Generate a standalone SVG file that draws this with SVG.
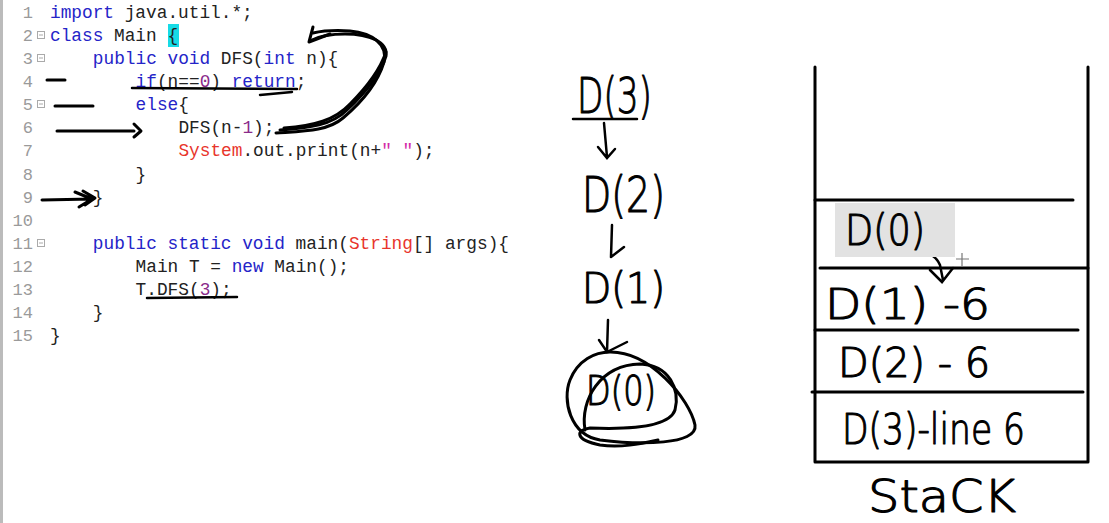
<svg xmlns="http://www.w3.org/2000/svg" width="1109" height="523" viewBox="0 0 1109 523">
<style>
.code{font-family:"Liberation Mono","DejaVu Sans Mono",monospace;font-size:17.8px;fill:#222}
.ln{font-family:"Liberation Mono","DejaVu Sans Mono",monospace;font-size:17px;fill:#9a9a9a;text-anchor:end}
.kw{fill:#2424c8}
.rd{fill:#e8352c}
.nm{fill:#8a2a8a}
.st{fill:#d42aa8}
.fold{fill:#fff;stroke:#aaa;stroke-width:1}
.pen{fill:none;stroke:#000;stroke-width:3;stroke-linecap:round;stroke-linejoin:round}
.thin{fill:none;stroke:#000;stroke-width:2.5;stroke-linecap:round}
.hw{font-family:"DejaVu Sans","Liberation Sans",sans-serif;font-weight:300;fill:#000;stroke:#000;stroke-width:1.1;stroke-linejoin:round}
</style>
<rect width="1109" height="523" fill="#fff"/>
<line x1="1.5" y1="0" x2="1.5" y2="523" stroke="#bbb" stroke-width="3"/>

<g id="editor">
<g id="line-numbers">
<text class="ln" x="33" y="18">1</text>
<text class="ln" x="33" y="41.1">2</text>
<text class="ln" x="33" y="64.1">3</text>
<text class="ln" x="33" y="87.2">4</text>
<text class="ln" x="33" y="110.3">5</text>
<text class="ln" x="33" y="133.4">6</text>
<text class="ln" x="33" y="156.4">7</text>
<text class="ln" x="33" y="179.5">8</text>
<text class="ln" x="33" y="202.6">9</text>
<text class="ln" x="33" y="225.6">10</text>
<text class="ln" x="33" y="248.7">11</text>
<text class="ln" x="33" y="271.8">12</text>
<text class="ln" x="33" y="294.8">13</text>
<text class="ln" x="33" y="317.9">14</text>
<text class="ln" x="33" y="341">15</text>
</g>
<g id="folds">
<rect class="fold" x="37.5" y="31.5" width="7" height="7"/><line x1="39" y1="35" x2="43" y2="35" stroke="#aaa"/>
<rect class="fold" x="37.5" y="54.5" width="7" height="7"/><line x1="39" y1="58" x2="43" y2="58" stroke="#aaa"/>
<rect class="fold" x="37.5" y="100.5" width="7" height="7"/><line x1="39" y1="104" x2="43" y2="104" stroke="#aaa"/>
<rect class="fold" x="37.5" y="239.5" width="7" height="7"/><line x1="39" y1="243" x2="43" y2="243" stroke="#aaa"/>
</g>
<rect x="168" y="24" width="11" height="23" fill="#16dbe6"/>
<g id="code">
<text class="code" x="50" y="18"><tspan class="kw">import</tspan> java.util.*;</text>
<text class="code" x="50" y="41.1"><tspan class="kw">class</tspan> Main {</text>
<text class="code" x="92.8" y="64.1"><tspan class="kw">public void</tspan> DFS(<tspan class="kw">int</tspan> n){</text>
<text class="code" x="135.6" y="87.2"><tspan class="kw">if</tspan>(n==<tspan class="nm">0</tspan>) <tspan class="kw">return</tspan>;</text>
<text class="code" x="135.6" y="110.3"><tspan class="kw">else</tspan>{</text>
<text class="code" x="178.4" y="133.4">DFS(n-<tspan class="nm">1</tspan>);</text>
<text class="code" x="178.4" y="156.4"><tspan class="rd">System</tspan>.out.print(n+<tspan class="st">" "</tspan>);</text>
<text class="code" x="135.6" y="179.5">}</text>
<text class="code" x="92.8" y="202.6">}</text>
<text class="code" x="92.8" y="248.7"><tspan class="kw">public static void</tspan> main(<tspan class="rd">String</tspan>[] args){</text>
<text class="code" x="135.6" y="271.8">Main T = <tspan class="kw">new</tspan> Main();</text>
<text class="code" x="135.6" y="294.8">T.DFS(<tspan class="nm">3</tspan>);</text>
<text class="code" x="92.8" y="317.9">}</text>
<text class="code" x="50" y="341">}</text>
</g>
</g>

<g id="connectors">
<path class="pen" d="M47,80 L65,80"/>
<path class="pen" d="M55,106 L93,106"/>
<path class="pen" d="M57,131 L134,131 M134,124 L141,131 L134,137"/>
<path class="thin" d="M132,88 L297,89 M260,95 L292,92"/>
<path class="pen" d="M276,133 C305,131 328,131 343,118 C362,102 378,82 384,62 C388,44 372,33 350,31 C335,30 322,31 313,33"/>
<path class="pen" d="M280,130 C310,128 332,125 347,110 C364,94 380,76 386,56 C388,42 370,34 345,34 C330,34 320,36 312,40"/>
<path class="pen" d="M284,128 C314,126 335,120 350,104 C366,88 380,70 386,52"/>
<path class="pen" d="M313,27 L309,42 L330,34"/>
<path class="pen" d="M42,200 L92,199 M75,192 L92,199 L79,207 M83,191 L95,198 L85,205"/>
<path class="thin" d="M147,298 L237,297"/>
<path class="thin" d="M573,119 L637,119"/>
<path class="thin" d="M604,123 L607,157 M598,147 L607,158 L615,149"/>
<path class="thin" d="M612,225 L611,257 M611,257 L624,247"/>
<path class="thin" d="M608,320 L607,352 M599,340 L607,352 L627,342"/>
<path class="thin" d="M843,251 L918,250 C930,252 937,258 940,265 L943,280 M930,270 L942,282 L953,268"/>
</g>

<g id="call-chain">
<g id="d3"><text class="hw" x="577" y="113" font-size="50" textLength="75" lengthAdjust="spacingAndGlyphs">D(3)</text></g>
<g id="d2"><text class="hw" x="582" y="212" font-size="50" textLength="83" lengthAdjust="spacingAndGlyphs">D(2)</text></g>
<g id="d1"><text class="hw" x="582" y="303" font-size="42" textLength="83" lengthAdjust="spacingAndGlyphs">D(1)</text></g>
<g id="d0">
<text class="hw" x="586" y="405" font-size="40" textLength="70" lengthAdjust="spacingAndGlyphs">D(0)</text>
<path class="pen" d="M608,352 C650,350 690,400 695,425 C698,445 640,445 600,440 C570,435 562,400 570,380 C578,360 595,352 610,352"/>
<path class="pen" d="M585,430 C580,400 600,365 640,364 C670,365 680,390 675,410 C670,425 640,430 590,428 C575,430 575,440 600,445 C620,448 640,444 658,440"/>
</g>
</g>

<g id="stack">
<path class="pen" d="M815,67 L815,462 L1088,462 L1088,67"/>
<path class="pen" d="M815,200 L1073,200 M820,268 L1088,268 M815,330 L1078,330 M812,392 L1083,392"/>
<g id="frame-d0">
<rect x="835" y="203" width="120" height="54" fill="#e2e2e2"/>
<text class="hw" x="845" y="245" font-size="42" textLength="80" lengthAdjust="spacingAndGlyphs">D(0)</text>
</g>
<path d="M962,253 L962,266 M956,259 L969,259" stroke="#777" stroke-width="1.2"/>
<g id="frame-d1"><text class="hw" x="825" y="319" font-size="42" textLength="165" lengthAdjust="spacingAndGlyphs">D(1) -6</text></g>
<g id="frame-d2"><text class="hw" x="838" y="377" font-size="40" textLength="152" lengthAdjust="spacingAndGlyphs">D(2) - 6</text></g>
<g id="frame-d3"><text class="hw" x="842" y="444" font-size="42" textLength="183" lengthAdjust="spacingAndGlyphs">D(3)-line 6</text></g>
<text class="hw" x="868" y="512" font-size="44" textLength="148" lengthAdjust="spacingAndGlyphs">StaCK</text>
</g>
</svg>
